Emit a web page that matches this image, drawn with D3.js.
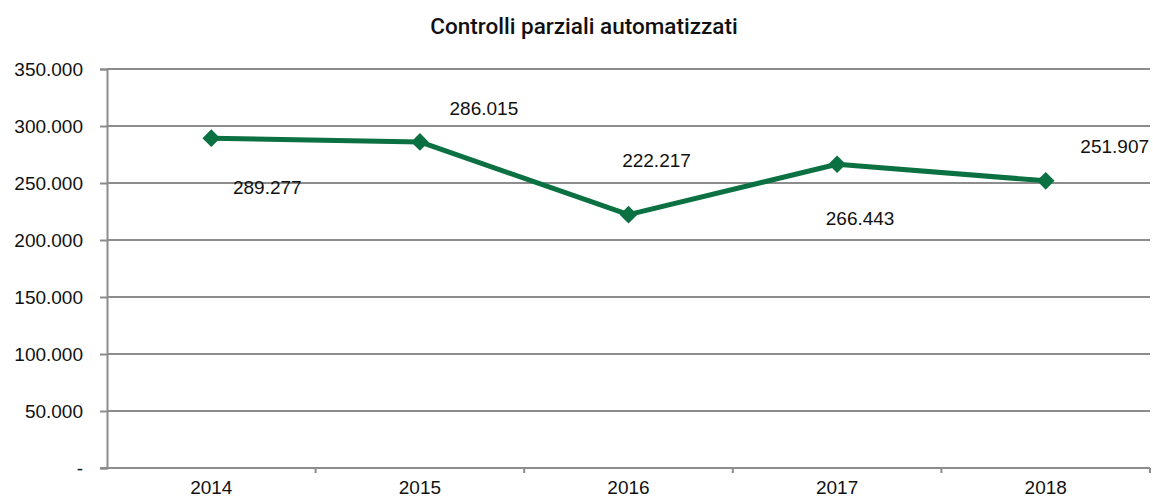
<!DOCTYPE html>
<html>
<head>
<meta charset="utf-8">
<script src="https://cdn.jsdelivr.net/npm/d3@7"></script>
<style>
	body { margin: 0; background: #fff; }
	text { font-family: "Liberation Sans", Arial, sans-serif; }
</style>
</head>
<body>
<svg id="chart" width="1153" height="498"></svg>
<script>
const years = ["2014", "2015", "2016", "2017", "2018"];
const controlli = [289277, 286015, 222217, 266443, 251907];
const yTicks = [0, 50000, 100000, 150000, 200000, 250000, 300000, 350000];

// where each value label sits relative to its point
const labelOffsets = [[56, 49], [64, -34], [28, -54], [23, 54], [69, -34]];

const svg = d3.select("#chart");
const margin = {top: 69, right: 3, bottom: 30, left: 107};
const width = +svg.attr("width");
const height = +svg.attr("height");

const x = d3.scaleBand()
	.domain(years)
	.range([margin.left, width - margin.right]);

const y = d3.scaleLinear()
	.domain([0, 350000])
	.range([height - margin.bottom, margin.top]);

const fmt = (d) => d3.format(",")(d).replace(/,/g, ".");

svg.append("text")
	.attr("x", 584)
	.attr("y", 34)
	.attr("text-anchor", "middle")
	.style("font-family", "Roboto, sans-serif")
	.style("font-weight", "500")
	.style("font-size", "22.5px")
	.attr("fill", "#111")
	.text("Controlli parziali automatizzati");

// gridlines
svg.append("g")
	.selectAll("line")
	.data(yTicks.filter((d) => d > 0))
	.enter()
	.append("line")
	.attr("x1", margin.left)
	.attr("x2", width - margin.right)
	.attr("y1", (d) => y(d))
	.attr("y2", (d) => y(d))
	.attr("stroke", "#8c8c8c")
	.attr("stroke-width", 2);

// y axis
const yAxis = svg.append("g")
	.attr("transform", "translate(" + margin.left + ",0)")
	.call(d3.axisLeft(y)
		.tickValues(yTicks)
		.tickSize(7)
		.tickPadding(17)
		.tickFormat((d) => d === 0 ? "-" : fmt(d)));
yAxis.select(".domain").attr("stroke", "#8c8c8c").attr("stroke-width", 2);
yAxis.selectAll(".tick line").attr("stroke", "#8c8c8c").attr("stroke-width", 2);
yAxis.selectAll(".tick text").style("font-size", "19px").attr("fill", "#111");

// x axis
const xAxis = svg.append("g")
	.attr("transform", "translate(0," + y(0) + ")")
	.call(d3.axisBottom(x).tickSize(0).tickPadding(13));
xAxis.select(".domain").remove();
xAxis.selectAll(".tick text").style("font-size", "19px").attr("fill", "#111");

svg.append("line")
	.attr("x1", margin.left - 7)
	.attr("x2", width - margin.right)
	.attr("y1", y(0))
	.attr("y2", y(0))
	.attr("stroke", "#8c8c8c")
	.attr("stroke-width", 2);

const bounds = years.map((d) => x(d) + x.bandwidth());
svg.append("g")
	.selectAll("line")
	.data(bounds)
	.enter()
	.append("line")
	.attr("x1", (d) => d)
	.attr("x2", (d) => d)
	.attr("y1", y(0))
	.attr("y2", y(0) + 5)
	.attr("stroke", "#8c8c8c")
	.attr("stroke-width", 2);

const cx = (d, i) => x(years[i]) + x.bandwidth() / 2;

const line = d3.line()
	.x(cx)
	.y((d) => y(d));

svg.append("path")
	.datum(controlli)
	.attr("d", line)
	.attr("fill", "none")
	.attr("stroke", "#0b7142")
	.attr("stroke-width", 5)
	.attr("stroke-linejoin", "round");

svg.append("g")
	.selectAll("path")
	.data(controlli)
	.enter()
	.append("path")
	.attr("d", d3.symbol().type(d3.symbolDiamond2).size(200))
	.attr("transform", (d, i) => "translate(" + cx(d, i) + "," + y(d) + ")")
	.attr("fill", "#0b7142");

svg.append("g")
	.selectAll("text")
	.data(controlli)
	.enter()
	.append("text")
	.attr("x", (d, i) => cx(d, i) + labelOffsets[i][0])
	.attr("y", (d, i) => y(d) + labelOffsets[i][1])
	.attr("dy", "0.35em")
	.attr("text-anchor", "middle")
	.style("font-size", "19px")
	.attr("fill", "#111")
	.text((d) => fmt(d));
</script>
</body>
</html>
